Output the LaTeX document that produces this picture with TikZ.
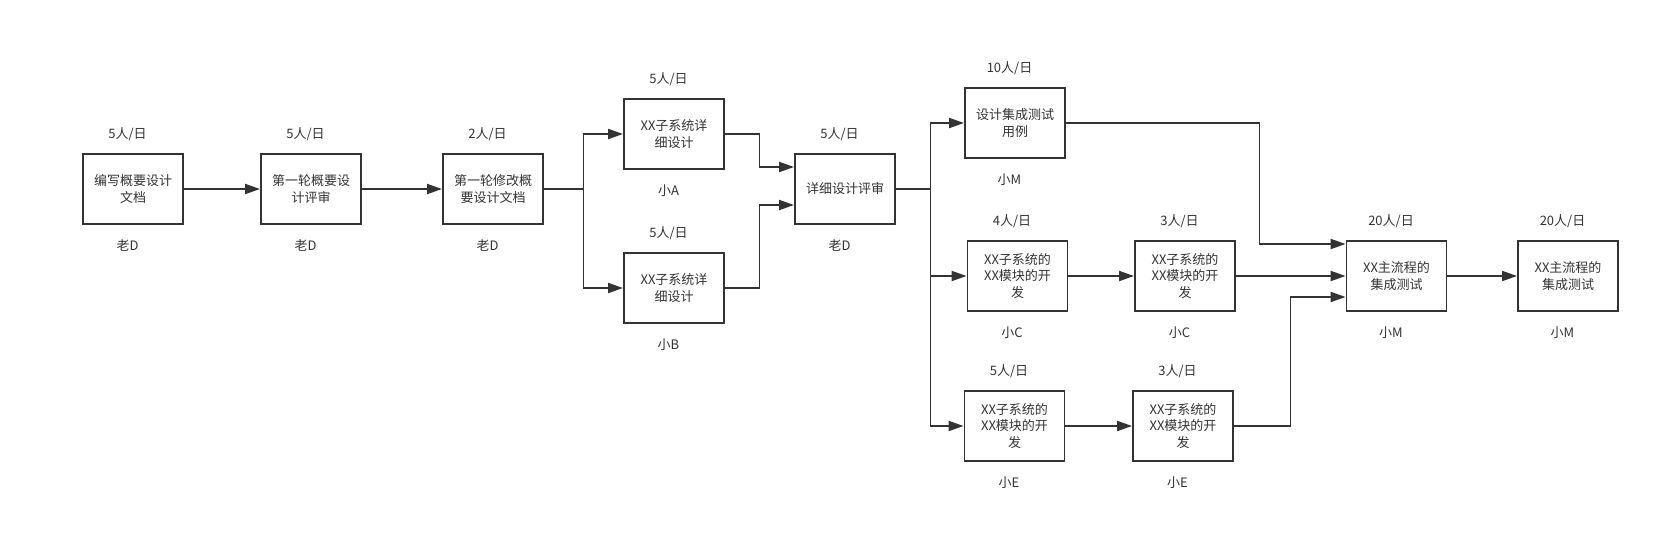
\documentclass[tikz,border=0pt]{standalone}
\usepackage{fontspec}
\setmainfont{Noto Sans CJK SC}
\usetikzlibrary{arrows.meta,calc}
\definecolor{ink}{HTML}{333333}
\newcommand\boxlabels[3]{%
  \node[lbl] (#1-top) at ([xshift=-5.5pt,yshift=19pt]#1.north) {#2};
  \node[lbl] (#1-bot) at ([xshift=-5.5pt,yshift=-21pt]#1.south) {#3};}
\begin{document}
\begin{tikzpicture}[x=1pt,y=-1pt,
  box/.style={draw=ink, line width=1.9pt, minimum width=100pt, minimum height=70pt,
    inner sep=0pt, align=center, font=\fontsize{13}{16.5}\selectfont, text=ink},
  lbl/.style={font=\fontsize{13}{16}\selectfont, text=ink, inner sep=0pt},
  ln/.style={draw=ink, line width=1.9pt},
  arr/.style={ln, -{Triangle[length=15pt,width=10pt]}}]
\fill[white] (0,0) rectangle (1680,533);
\useasboundingbox (0,0) rectangle (1680,533);

% boxes
\node[box] (b1) at (133,189) {编写概要设计\\文档};
\node[box] (b2) at (311,189) {第一轮概要设\\计评审};
\node[box] (b3) at (493,189) {第一轮修改概\\要设计文档};
\node[box] (bA) at (674,134) {XX子系统详\\细设计};
\node[box] (bB) at (674,288) {XX子系统详\\细设计};
\node[box] (d)  at (845,189) {详细设计评审};
\node[box] (t)  at (1015,123) {设计集成测试\\用例};
\node[box] (c1) at (1017.5,276) {XX子系统的\\XX模块的开\\发};
\node[box] (c2) at (1185,276) {XX子系统的\\XX模块的开\\发};
\node[box] (e1) at (1014.5,426) {XX子系统的\\XX模块的开\\发};
\node[box] (e2) at (1183,426) {XX子系统的\\XX模块的开\\发};
\node[box] (m1) at (1396.5,276) {XX主流程的\\集成测试};
\node[box] (m2) at (1568,276) {XX主流程的\\集成测试};

% labels
\boxlabels{b1}{5人/日}{老D}
\boxlabels{b2}{5人/日}{老D}
\boxlabels{b3}{2人/日}{老D}
\boxlabels{bA}{5人/日}{小A}
\boxlabels{bB}{5人/日}{小B}
\boxlabels{d}{5人/日}{老D}
\boxlabels{t}{10人/日}{小M}
\boxlabels{c1}{4人/日}{小C}
\boxlabels{c2}{3人/日}{小C}
\boxlabels{e1}{5人/日}{小E}
\boxlabels{e2}{3人/日}{小E}
\boxlabels{m1}{20人/日}{小M}
\boxlabels{m2}{20人/日}{小M}

% connectors
\draw[arr] (b1.east) -- (b2.west);
\draw[arr] (b2.east) -- (b3.west);
\coordinate (s1) at (583.5,189);
\draw[arr] (b3.east) -- (s1) |- (bA.west);
\draw[arr] (s1) |- (bB.west);
\coordinate (jA) at (759.5,167);
\coordinate (jB) at (759.5,205);
\draw[arr] (bA.east) -| (jA) -- (d.west |- jA);
\draw[arr] (bB.east) -| (jB) -- (d.west |- jB);
\coordinate (s2) at (930.5,189);
\draw[ln] (d.east) -- (s2);
\draw[arr] (s2) |- (t.west);
\draw[arr] (s2) |- (c1.west);
\draw[arr] (s2) |- (e1.west);
\draw[arr] (c1.east) -- (c2.west);
\draw[arr] (e1.east) -- (e2.west);
\coordinate (jt) at (1259.5,244);
\coordinate (je) at (1290.5,297);
\draw[arr] (t.east) -| (jt) -- (m1.west |- jt);
\draw[arr] (c2.east) -- (m1.west);
\draw[arr] (e2.east) -| (je) -- (m1.west |- je);
\draw[arr] (m1.east) -- (m2.west);
\end{tikzpicture}
\end{document}
